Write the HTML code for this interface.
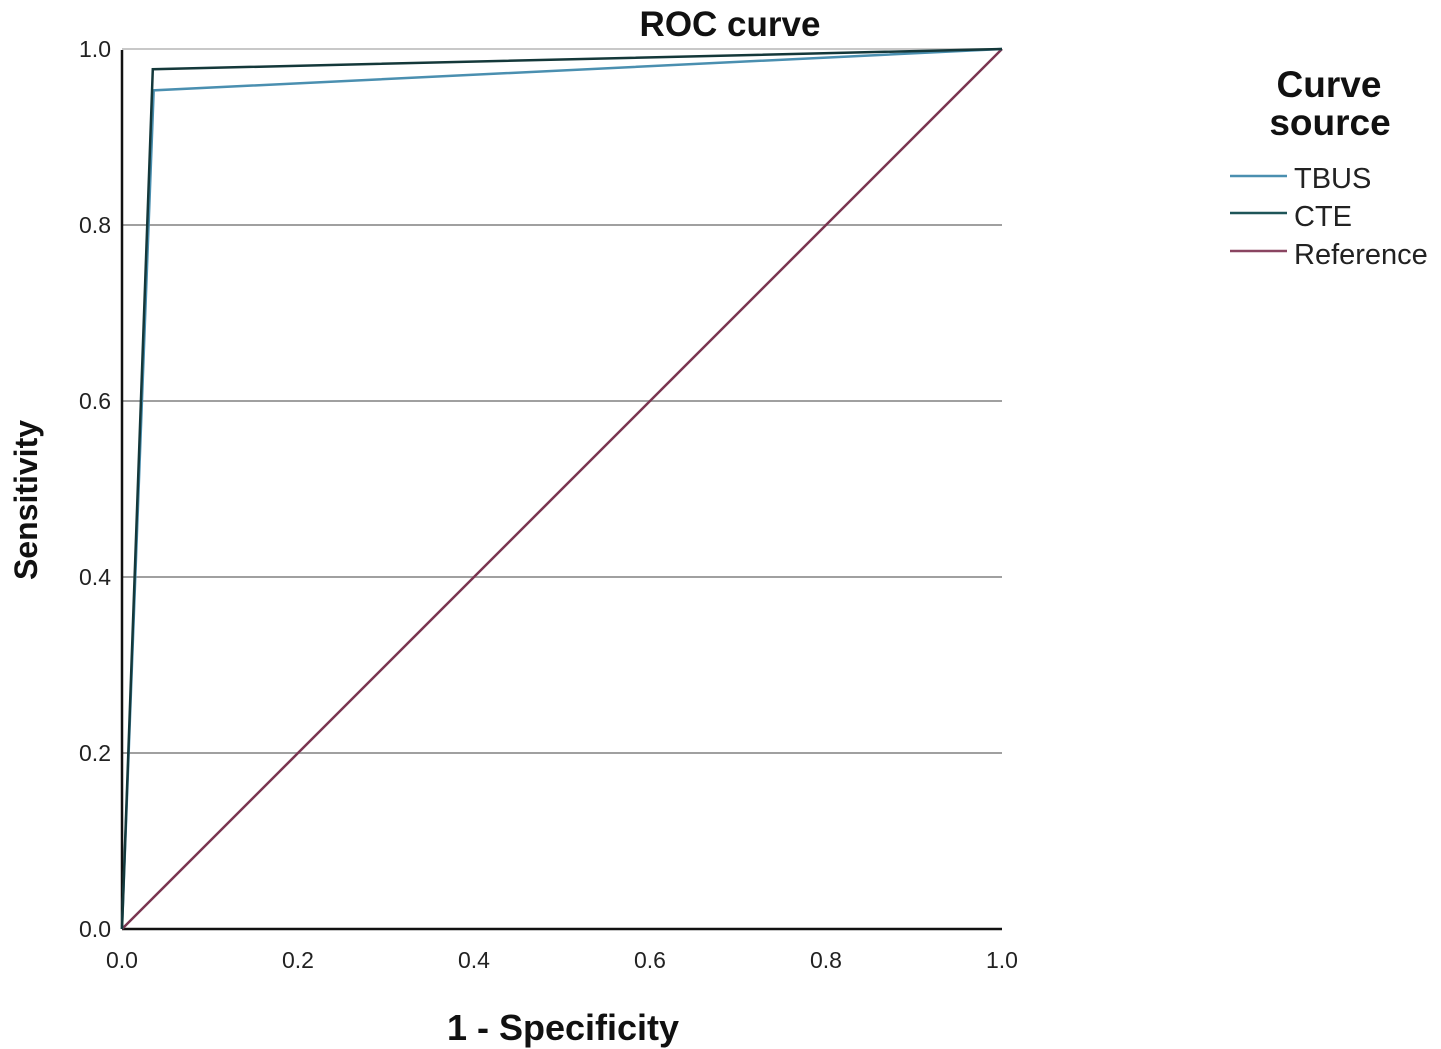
<!DOCTYPE html>
<html><head><meta charset="utf-8"><style>
body{margin:0;background:#fff;}
svg{display:block;font-family:"Liberation Sans",Arial,sans-serif;}
</style></head><body>
<svg id="chart" width="1441" height="1049" viewBox="0 0 1441 1049" xmlns="http://www.w3.org/2000/svg">
<rect width="1441" height="1049" fill="#fff"/>
<text x="730" y="36" text-anchor="middle" font-size="35" font-weight="bold" fill="#111">ROC curve</text>
<g id="grid"></g>
<g id="ticks"></g>
<line x1="122" y1="50" x2="122" y2="929" stroke="#111" stroke-width="2.5"/>
<line x1="122" y1="929" x2="1002" y2="929" stroke="#111" stroke-width="2.5"/>
<g id="series"></g>
<text x="563" y="1040" text-anchor="middle" font-size="36" font-weight="bold" fill="#111">1 - Specificity</text>
<text transform="translate(37,500) rotate(-90)" text-anchor="middle" font-size="32" font-weight="bold" fill="#111">Sensitivity</text>
<g>
<text x="1329" y="97" text-anchor="middle" font-size="37" font-weight="bold" fill="#111">Curve</text>
<text x="1330" y="135" text-anchor="middle" font-size="37" font-weight="bold" fill="#111">source</text>
<g><line x1="1230" y1="176" x2="1287" y2="176" stroke="#4a8fb0" stroke-width="2.5"/><text x="1294" y="188" font-size="29" fill="#222">TBUS</text></g>
<g><line x1="1230" y1="213" x2="1287" y2="213" stroke="#1e5558" stroke-width="2.5"/><text x="1294" y="226" font-size="29" fill="#222">CTE</text></g>
<g><line x1="1230" y1="251" x2="1287" y2="251" stroke="#8a4561" stroke-width="2.5"/><text x="1294" y="264" font-size="29" fill="#222">Reference</text></g>
</g>
</svg>
<script>
const ticks=[0,0.2,0.4,0.6,0.8,1.0];
const tickLabels=["0.0","0.2","0.4","0.6","0.8","1.0"];
const tbusX=[0,0.036,1];
const tbusY=[0,0.953,1];
const cteX=[0,0.035,1];
const cteY=[0,0.977,1];
const refX=[0,1];
const refY=[0,1];
const NS="http://www.w3.org/2000/svg";
const sx=v=>122+v*880, sy=v=>929-v*880;
const grid=document.getElementById('grid'), tk=document.getElementById('ticks'), ser=document.getElementById('series');
ticks.forEach((t,i)=>{
  if(t>0){const l=document.createElementNS(NS,'line');
  l.setAttribute('x1',122);l.setAttribute('x2',1002);l.setAttribute('y1',sy(t));l.setAttribute('y2',sy(t));
  l.setAttribute('stroke',t===1?'#c8c8c8':'#a0a0a0');l.setAttribute('stroke-width',2);
  
  
  grid.appendChild(l);}
  const a=document.createElementNS(NS,'text');
  a.setAttribute('x',111);a.setAttribute('y',sy(t)+8);a.setAttribute('text-anchor','end');a.setAttribute('font-size',23);a.setAttribute('fill','#222');a.textContent=tickLabels[i];
  
  
  tk.appendChild(a);
  const b=document.createElementNS(NS,'text');
  b.setAttribute('x',sx(t));b.setAttribute('y',968);b.setAttribute('text-anchor','middle');b.setAttribute('font-size',23);b.setAttribute('fill','#222');b.textContent=tickLabels[i];
  
  
  tk.appendChild(b);
});
function line(xs,ys,color,name){
  const p=document.createElementNS(NS,'polyline');
  p.setAttribute('points',xs.map((x,i)=>sx(x)+','+sy(ys[i])).join(' '));
  p.setAttribute('fill','none');p.setAttribute('stroke',color);p.setAttribute('stroke-width',2.5);
  
  
  ser.appendChild(p);
}
line(refX,refY,'#7a3550','reference-line');
line(tbusX,tbusY,'#4a8fb0','tbus-curve');
line(cteX,cteY,'#14383a','cte-curve');
</script>
</body></html>
